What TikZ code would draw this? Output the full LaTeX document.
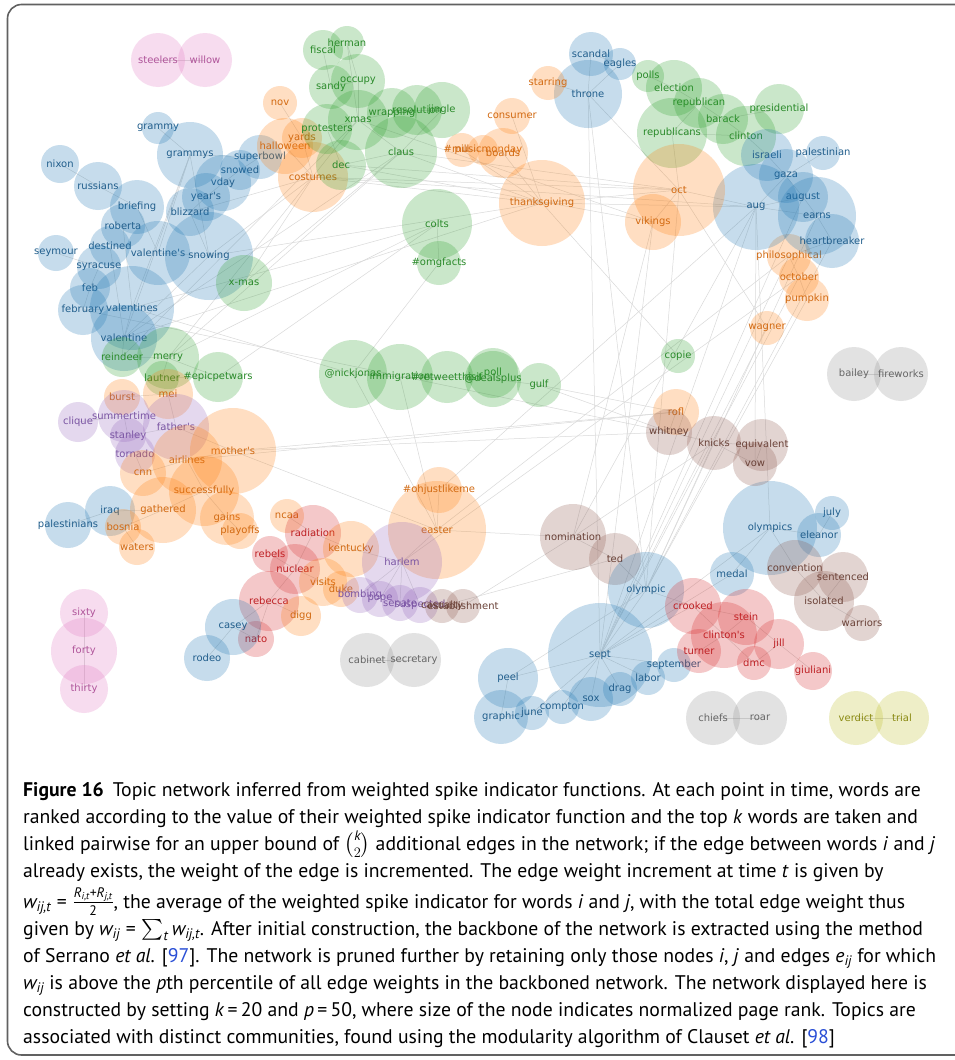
\documentclass[tikz,border=0pt]{standalone}
\usepackage{amsmath}
\usepackage{fontspec}
\newfontfamily\dejavu{DejaVu Sans}
\newfontfamily\capfont{PT Sans}
\usetikzlibrary{backgrounds}
\definecolor{cBl}{HTML}{1F77B4}\definecolor{tBl}{HTML}{215E8C}
\definecolor{cOr}{HTML}{FF7F0E}\definecolor{tOr}{HTML}{D26A12}
\definecolor{cGr}{HTML}{2CA02C}\definecolor{tGr}{HTML}{2A8A2A}
\definecolor{cRd}{HTML}{D62728}\definecolor{tRd}{HTML}{BE2024}
\definecolor{cPu}{HTML}{9467BD}\definecolor{tPu}{HTML}{7A55A3}
\definecolor{cBr}{HTML}{8C564B}\definecolor{tBr}{HTML}{6A4238}
\definecolor{cPk}{HTML}{E377C2}\definecolor{tPk}{HTML}{B0559A}
\definecolor{cGy}{HTML}{8F8F8F}\definecolor{tGy}{HTML}{666666}
\definecolor{cOl}{HTML}{BCBD22}\definecolor{tOl}{HTML}{8A8A12}
\definecolor{linkb}{HTML}{2A4FD6}
\tikzset{
  wc/.style={circle,inner sep=0pt,draw=none,fill=#1,fill opacity=0.25},
  wl/.style={inner sep=0pt,text=#1,font=\dejavu\fontsize{10}{12}\selectfont},
  edge/.style={draw=black!15,line width=0.5pt},
  frame/.style={draw=black!62,line width=1.6pt,rounded corners=14pt},
  captxt/.style={anchor=base west,inner sep=0pt,font=\capfont\fontsize{19.7}{24}\selectfont}
}
\newcommand\wn[6]{\node[wc=c#5,minimum size=2*#4pt] (#1) at (#2,#3) {};\node[wl=t#5] (#1-l) at (#2,#3) {#6};}
\newcommand\iv[1]{\textit{#1}}
\begin{document}
\begin{tikzpicture}[x=1pt,y=-1pt]
\useasboundingbox (0,0) rectangle (955,1060);
% pink
\wn{steelers}{158}{60}{27}{Pk}{steelers}
\wn{willow}{205}{60}{27}{Pk}{willow}
\wn{sixty}{84}{613}{24}{Pk}{sixty}
\wn{forty}{84}{651}{33}{Pk}{forty}
\wn{thirty}{84}{689}{24}{Pk}{thirty}
% blue top-left
\wn{grammy}{158}{128}{16}{Bl}{grammy}
\wn{grammys}{190}{155}{33}{Bl}{grammys}
\wn{nixon}{60}{164}{19}{Bl}{nixon}
\wn{russians}{98}{186}{24}{Bl}{russians}
\wn{superbowl}{260}{157}{22}{Bl}{superbowl}
\wn{snowed}{240}{170}{20}{Bl}{snowed}
\wn{vday}{223}{183}{28}{Bl}{vday}
\wn{years}{206}{197}{24}{Bl}{year's}
\wn{blizzard}{190}{212}{24}{Bl}{blizzard}
\wn{briefing}{137}{207}{27}{Bl}{briefing}
\wn{roberta}{123}{226}{22}{Bl}{roberta}
\wn{destined}{110}{246}{20}{Bl}{destined}
\wn{seymour}{56}{253}{18}{Bl}{seymour}
\wn{valentinesA}{158}{253}{32}{Bl}{valentine's}
\wn{snowing}{209}{256}{44}{Bl}{snowing}
\wn{syracuse}{99}{267}{22}{Bl}{syracuse}
\wn{feb}{90}{288}{20}{Bl}{feb}
\wn{february}{83}{310}{25}{Bl}{february}
\wn{valentines}{132}{308}{42}{Bl}{valentines}
\wn{valentine}{124}{338}{33}{Bl}{valentine}
% green left
\wn{xmasB}{244}{283}{28}{Gr}{x-mas}
\wn{reindeer}{122}{357}{20}{Gr}{reindeer}
\wn{merry}{168}{358}{31}{Gr}{merry}
\wn{lautner}{162}{378}{17}{Gr}{lautner}
\wn{epicpetwars}{218}{377}{25}{Gr}{\#epicpetwars}
% orange / purple left
\wn{burst}{122}{397}{18}{Or}{burst}
\wn{mei}{168}{394}{25}{Or}{mei}
\wn{clique}{78}{422}{20}{Pu}{clique}
\wn{summertime}{124}{416}{26}{Pu}{summertime}
\wn{stanley}{128}{436}{18}{Pu}{stanley}
\wn{fathers}{176}{427}{33}{Pu}{father's}
\wn{tornado}{135}{454}{20}{Pu}{tornado}
\wn{mothers}{233}{451}{43}{Or}{mother's}
\wn{airlines}{187}{460}{35}{Or}{airlines}
\wn{cnn}{143}{473}{23}{Or}{cnn}
\wn{successfully}{204}{491}{35}{Or}{successfully}
\wn{iraq}{110}{511}{25}{Bl}{iraq}
\wn{palestinians}{68}{525}{23}{Bl}{palestinians}
\wn{gathered}{163}{510}{33}{Or}{gathered}
\wn{bosnia}{123}{527}{18}{Or}{bosnia}
\wn{waters}{137}{547}{18}{Or}{waters}
\wn{gains}{227}{518}{27}{Or}{gains}
\wn{playoffs}{240}{531}{18}{Or}{playoffs}
\wn{ncaa}{287}{516}{17}{Or}{ncaa}
% red
\wn{radiation}{313}{533}{28}{Rd}{radiation}
\wn{rebels}{270}{554}{18}{Rd}{rebels}
\wn{nuclear}{295}{569}{25}{Rd}{nuclear}
\wn{rebecca}{269}{601}{30}{Rd}{rebecca}
\wn{nato}{256}{639}{18}{Rd}{nato}
\wn{digg}{301}{616}{20}{Or}{digg}
\wn{casey}{233}{627}{28}{Bl}{casey}
\wn{rodeo}{207}{658}{23}{Bl}{rodeo}
% orange middle
\wn{kentucky}{351}{549}{28}{Or}{kentucky}
\wn{visits}{323}{582}{24}{Or}{visits}
\wn{duke}{341}{589}{18}{Or}{duke}
\wn{easter}{437}{530}{49}{Or}{easter}
\wn{ohjust}{439}{490}{23}{Or}{\#ohjustlikeme}
% purple
\wn{harlem}{402}{562}{40}{Pu}{harlem}
\wn{bombing}{360}{595}{18}{Pu}{bombing}
\wn{pope}{380}{599}{18}{Pu}{pope}
\wn{senate}{400}{603}{18}{Pu}{senate}
\wn{suspected}{420}{605}{18}{Pu}{suspected}
\wn{casualty}{442}{606}{17}{Br}{casualty}
\wn{establishment}{463}{606}{17}{Br}{establishment}
% grey
\wn{cabinet}{367}{660}{27}{Gy}{cabinet}
\wn{secretary}{414}{660}{27}{Gy}{secretary}
% lower right
\wn{nomination}{573}{537}{33}{Br}{nomination}
\wn{ted}{615}{559}{26}{Br}{ted}
\wn{olympic}{646}{590}{38}{Bl}{olympic}
\wn{sept}{600}{655}{52}{Bl}{sept}
\wn{peel}{508}{678}{30}{Bl}{peel}
\wn{graphic}{501}{717}{27}{Bl}{graphic}
\wn{june}{532}{713}{17}{Bl}{june}
\wn{compton}{562}{707}{17}{Bl}{compton}
\wn{sox}{591}{699}{22}{Bl}{sox}
\wn{drag}{620}{689}{17}{Bl}{drag}
\wn{labor}{648}{678}{17}{Bl}{labor}
\wn{september}{674}{665}{17}{Bl}{september}
\wn{olympics}{770}{528}{47}{Bl}{olympics}
\wn{july}{832}{513}{17}{Bl}{july}
\wn{eleanor}{819}{535}{22}{Bl}{eleanor}
\wn{medal}{732}{574}{22}{Bl}{medal}
\wn{convention}{795}{568}{28}{Br}{convention}
\wn{sentenced}{843}{577}{25}{Br}{sentenced}
\wn{isolated}{824}{601}{30}{Br}{isolated}
\wn{warriors}{862}{623}{18}{Br}{warriors}
\wn{crooked}{693}{606}{28}{Rd}{crooked}
\wn{stein}{746}{617}{28}{Rd}{stein}
\wn{clintons}{724}{635}{33}{Rd}{clinton's}
\wn{turner}{699}{651}{22}{Rd}{turner}
\wn{jill}{779}{644}{25}{Rd}{jill}
\wn{dmc}{754}{663}{17}{Rd}{dmc}
\wn{giuliani}{813}{671}{19}{Rd}{giuliani}
\wn{chiefs}{713}{718}{27}{Gy}{chiefs}
\wn{roar}{760}{718}{27}{Gy}{roar}
\wn{verdict}{856}{718}{27}{Ol}{verdict}
\wn{trial}{902}{718}{27}{Ol}{trial}
% right middle
\wn{philosophical}{789}{256}{22}{Or}{philosophical}
\wn{october}{799}{277}{20}{Or}{october}
\wn{pumpkin}{807}{299}{22}{Or}{pumpkin}
\wn{wagner}{767}{328}{17}{Or}{wagner}
\wn{copie}{678}{356}{17}{Gr}{copie}
\wn{bailey}{854}{374}{27}{Gy}{bailey}
\wn{fireworks}{901}{374}{27}{Gy}{fireworks}
\wn{rofl}{676}{412}{23}{Or}{rofl}
\wn{whitney}{669}{432}{23}{Br}{whitney}
\wn{knicks}{714}{443}{27}{Br}{knicks}
\wn{equivalent}{762}{445}{26}{Br}{equivalent}
\wn{vow}{755}{464}{22}{Br}{vow}
% top right
\wn{polls}{648}{76}{16}{Gr}{polls}
\wn{election}{674}{88}{28}{Gr}{election}
\wn{republican}{699}{103}{25}{Gr}{republican}
\wn{barack}{723}{119}{25}{Gr}{barack}
\wn{presidential}{779}{109}{25}{Gr}{presidential}
\wn{republicans}{672}{133}{35}{Gr}{republicans}
\wn{clinton}{746}{136}{30}{Gr}{clinton}
\wn{israeli}{767}{155}{26}{Bl}{israeli}
\wn{palestinian}{823}{153}{17}{Bl}{palestinian}
\wn{gaza}{786}{176}{27}{Bl}{gaza}
\wn{august}{803}{197}{25}{Bl}{august}
\wn{aug}{756}{207}{43}{Bl}{aug}
\wn{earns}{817}{216}{39}{Bl}{earns}
\wn{heartbreaker}{832}{241}{27}{Bl}{heartbreaker}
\wn{oct}{679}{190}{46}{Or}{oct}
\wn{vikings}{653}{222}{28}{Or}{vikings}
\wn{scandal}{591}{54}{22}{Bl}{scandal}
\wn{eagles}{620}{64}{16}{Bl}{eagles}
\wn{throne}{588}{94}{34}{Bl}{throne}
\wn{starring}{548}{83}{17}{Or}{starring}
\wn{consumer}{512}{116}{18}{Or}{consumer}
% top middle green
\wn{fiscal}{323}{50}{20}{Gr}{fiscal}
\wn{herman}{347}{43}{17}{Gr}{herman}
\wn{sandy}{331}{87}{22}{Gr}{sandy}
\wn{occupy}{358}{81}{27}{Gr}{occupy}
\wn{xmas}{358}{120}{30}{Gr}{xmas}
\wn{wrapping}{392}{113}{25}{Gr}{wrapping}
\wn{resolution}{417}{110}{25}{Gr}{resolution}
\wn{jingle}{442}{110}{28}{Gr}{jingle}
\wn{claus}{401}{152}{36}{Gr}{claus}
\wn{nov}{280}{103}{17}{Or}{nov}
\wn{halloween}{285}{146}{28}{Or}{halloween}
\wn{yards}{302}{138}{20}{Or}{yards}
\wn{costumes}{313}{177}{35}{Or}{costumes}
\wn{protesters}{327}{129}{25}{Gr}{protesters}
\wn{dec}{341}{165}{25}{Gr}{dec}
\wn{pill}{462}{150}{17}{Or}{pill}
\wn{musicmonday}{483}{150}{15}{Or}{\#musicmonday}
\wn{boards}{503}{153}{25}{Or}{boards}
\wn{thanksgiving}{542}{203}{43}{Or}{thanksgiving}
\wn{colts}{437}{224}{35}{Gr}{colts}
\wn{omgfacts}{439}{263}{22}{Gr}{\#omgfacts}
% middle green row
\wn{nickjonas}{353}{374}{34}{Gr}{@nickjonas}
\wn{immigration}{400}{377}{33}{Gr}{immigration}
\wn{retweet}{447}{377}{26}{Gr}{\#retweetthisif}
\wn{poll}{493}{373}{25}{Gr}{poll}
\wn{dealsplus}{493}{379}{28}{Gr}{@dealsplus}
\wn{gulf}{539}{385}{22}{Gr}{gulf}
% frame
\begin{scope}
\clip (0,0) rectangle (955,1060);
\draw[frame] (7.5,4.5) rectangle (990,1055);
\end{scope}
% edges
\begin{pgfonlayer}{background}
\fill[white] (0,0) rectangle (955,1060);
\foreach \a/\b in {grammy/grammys,grammys/snowing,grammys/valentines,grammys/valentine,grammys/valentinesA,nixon/russians,russians/briefing,briefing/valentinesA,roberta/valentines,destined/valentine,seymour/syracuse,syracuse/feb,feb/february,february/valentines,valentines/valentine,valentinesA/snowing,snowing/blizzard,blizzard/years,years/vday,vday/snowed,snowed/superbowl,superbowl/grammys,snowing/valentine,valentine/reindeer,merry/reindeer,merry/lautner,lautner/epicpetwars,merry/epicpetwars,
valentine/claus,merry/claus,merry/xmas,reindeer/xmas,xmasB/costumes,xmasB/claus,snowing/costumes,blizzard/costumes,valentines/colts,merry/colts,valentine/thanksgiving,snowing/thanksgiving,epicpetwars/colts,valentines/nickjonas,february/whitney,mothers/rofl,mothers/whitney,airlines/rofl,
costumes/thanksgiving,costumes/oct,costumes/aug,dec/oct,dec/vikings,claus/thanksgiving,claus/oct,xmas/vikings,halloween/costumes,nov/yards,yards/costumes,halloween/yards,protesters/xmas,protesters/dec,fiscal/sandy,herman/occupy,herman/xmas,occupy/sandy,occupy/xmas,xmas/wrapping,wrapping/resolution,resolution/jingle,jingle/claus,claus/xmas,dec/claus,
pill/musicmonday,musicmonday/boards,boards/thanksgiving,consumer/thanksgiving,pill/thanksgiving,thanksgiving/oct,thanksgiving/aug,starring/throne,throne/sept,throne/scandal,scandal/eagles,eagles/throne,throne/oct,throne/olympic,
polls/election,election/republican,republican/republicans,republican/barack,barack/clinton,barack/presidential,republicans/clinton,clinton/israeli,israeli/gaza,palestinian/gaza,gaza/august,august/earns,earns/heartbreaker,aug/august,aug/gaza,aug/earns,oct/vikings,oct/aug,republicans/oct,
aug/sept,august/sept,earns/olympic,heartbreaker/olympic,philosophical/sept,october/sept,pumpkin/olympic,oct/olympic,vikings/sept,aug/olympics,aug/vow,heartbreaker/philosophical,philosophical/october,october/pumpkin,oct/wagner,wagner/sept,vikings/nomination,
colts/omgfacts,omgfacts/nickjonas,nickjonas/immigration,immigration/retweet,retweet/dealsplus,dealsplus/gulf,poll/dealsplus,nickjonas/easter,immigration/easter,gulf/whitney,gulf/rofl,thanksgiving/copie,easter/nomination,ohjust/easter,ohjust/aug,easter/philosophical,harlem/october,nomination/knicks,nomination/ted,ted/olympic,nomination/aug,
rofl/whitney,whitney/knicks,knicks/equivalent,equivalent/vow,knicks/vow,knicks/olympic,
burst/mei,mei/fathers,summertime/clique,summertime/stanley,stanley/fathers,fathers/mothers,tornado/cnn,cnn/airlines,airlines/successfully,airlines/mothers,successfully/gathered,gathered/bosnia,bosnia/waters,gathered/iraq,iraq/palestinians,gains/playoffs,successfully/gains,mothers/easter,
radiation/nuclear,rebels/nuclear,nuclear/rebecca,rebecca/nato,rebecca/casey,casey/rodeo,casey/nato,rebecca/digg,ncaa/radiation,kentucky/radiation,kentucky/harlem,visits/nuclear,duke/visits,harlem/bombing,harlem/pope,harlem/senate,harlem/suspected,harlem/easter,suspected/casualty,casualty/establishment,establishment/nomination,casualty/ted,
peel/sept,graphic/peel,graphic/june,june/sept,compton/sept,sox/sept,drag/sept,labor/sept,september/sept,peel/olympic,sept/olympic,sept/olympics,medal/sept,medal/olympics,olympics/eleanor,eleanor/july,convention/olympics,convention/isolated,sentenced/isolated,isolated/warriors,convention/sentenced,
crooked/olympic,crooked/clintons,crooked/stein,stein/clintons,clintons/turner,clintons/dmc,stein/jill,jill/giuliani,jill/dmc,crooked/sept,
steelers/willow,sixty/forty,forty/thirty,cabinet/secretary,chiefs/roar,verdict/trial,bailey/fireworks}
  \draw[edge] (\a.center) -- (\b.center);
\end{pgfonlayer}
% caption
\node[captxt] (c1) at (23,796) {\textbf{Figure 16}\hspace{0.45em}Topic network inferred from weighted spike indicator functions. At each point in time, words are};
\node[captxt] (c2) at (23,823) {ranked according to the value of their weighted spike indicator function and the top \iv{k} words are taken and};
\node[captxt] (c3) at (23,850) {linked pairwise for an upper bound of $\binom{\iv{k}}{2}$ additional edges in the network; if the edge between words \iv{i} and \iv{j}};
\node[captxt] (c4) at (23,877) {already exists, the weight of the edge is incremented. The edge weight increment at time \iv{t} is given by};
\node[captxt] (c5) at (23,908) {$\iv{w}_{\iv{ij,t}}\mathrel{\textup{=}}\frac{\iv{R}_{\iv{i,t}}\textup{+}\iv{R}_{\iv{j,t}}}{\textup{2}}$, the average of the weighted spike indicator for words \iv{i} and \iv{j}, with the total edge weight thus};
\node[captxt] (c6) at (23,935) {given by $\iv{w}_{\iv{ij}}\mathrel{\textup{=}}\sum_{\iv{t}} \iv{w}_{\iv{ij,t}}$. After initial construction, the backbone of the network is extracted using the method};
\node[captxt] (c7) at (23,962) {of Serrano \iv{et al.} [\textcolor{linkb}{97}]. The network is pruned further by retaining only those nodes \iv{i}, \iv{j} and edges $\iv{e}_{\iv{ij}}$ for which};
\node[captxt] (c8) at (23,989) {$\iv{w}_{\iv{ij}}$ is above the \iv{p}th percentile of all edge weights in the backboned network. The network displayed here is};
\node[captxt] (c9) at (23,1016) {constructed by setting \iv{k}\,=\,20 and \iv{p}\,=\,50, where size of the node indicates normalized page rank. Topics are};
\node[captxt] (c10) at (23,1043) {associated with distinct communities, found using the modularity algorithm of Clauset \iv{et al.} [\textcolor{linkb}{98}]};
\end{tikzpicture}
\end{document}
